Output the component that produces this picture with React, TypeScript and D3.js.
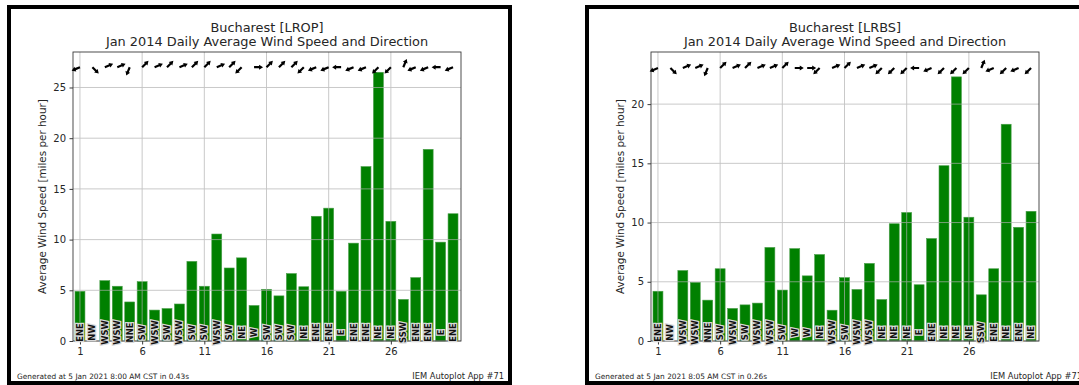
import * as d3 from "d3";
import { useEffect, useRef } from "react";

// days of the month (categories)
const days = [1, 2, 3, 4, 5, 6, 7, 8, 9, 10, 11, 12, 13, 14, 15, 16, 17, 18, 19, 20, 21, 22, 23, 24, 25, 26, 27, 28, 29, 30, 31];
const dayTicks = [1, 6, 11, 16, 21, 26];

// LROP - Bucharest Otopeni
const lropSpeed = [4.9, 0, 5.95, 5.4, 3.85, 5.85, 3.05, 3.2, 3.65, 7.85, 5.4, 10.55, 7.2, 8.2, 3.5, 5.1, 4.45, 6.65, 5.35, 12.3, 13.1, 4.9, 9.65, 17.2, 26.5, 11.8, 4.1, 6.25, 18.9, 9.75, 12.55];
const lropDir = ["ENE", "NW", "WSW", "WSW", "NNE", "SW", "WSW", "SW", "WSW", "SW", "SW", "WSW", "SW", "NE", "W", "SW", "SW", "SW", "NE", "ENE", "ENE", "E", "ENE", "ENE", "NE", "NE", "SSW", "ENE", "ENE", "E", "ENE"];
const lropTicks = [0, 5, 10, 15, 20, 25];

// LRBS - Bucharest Baneasa
const lrbsSpeed = [4.2, 0, 5.95, 4.95, 3.45, 6.1, 2.75, 3.05, 3.2, 7.9, 4.3, 7.8, 5.5, 7.3, 2.6, 5.35, 4.35, 6.55, 3.5, 9.9, 10.85, 4.75, 8.65, 14.8, 22.3, 10.45, 3.9, 6.1, 18.3, 9.6, 10.95];
const lrbsDir = ["ENE", "NW", "WSW", "WSW", "NNE", "SW", "WSW", "SW", "WSW", "WSW", "SW", "W", "W", "NE", "WSW", "SW", "WSW", "WSW", "NE", "NE", "NE", "E", "ENE", "NE", "NE", "NE", "SSW", "ENE", "NE", "ENE", "NE"];
const lrbsTicks = [0, 5, 10, 15, 20];

const compass = ["N", "NNE", "NE", "ENE", "E", "ESE", "SE", "SSE", "S", "SSW", "SW", "WSW", "W", "WNW", "NW", "NNW"];

const FONT = "DejaVu Sans";

interface PanelOpts {
    offset: number;
    title: string;
    speed: number[];
    dir: string[];
    yMax: number;
    yTicks: number[];
    arrowLevel: number;
    generated: string;
}

const drawPanel = (svg: any, o: PanelOpts) => {
    const g = svg.append("g").attr("transform", `translate(${o.offset},0)`);

    // axes box
    const left = 73, right = 461, top = 52, bottom = 341;

    const x = d3.scaleLinear().domain([0.44, 31.64]).range([left, right]);
    const y = d3.scaleLinear().domain([0, o.yMax]).range([bottom, top]);

    // figure frame
    g.append("rect")
        .attr("x", 9).attr("y", 7)
        .attr("width", 501).attr("height", 376)
        .attr("fill", "#fff")
        .attr("stroke", "#000")
        .attr("stroke-width", 4);

    // title
    g.append("text")
        .attr("x", (left + right) / 2).attr("y", 32)
        .attr("text-anchor", "middle")
        .attr("font-family", FONT).attr("font-size", 12.9)
        .attr("fill", "#262626")
        .text(o.title);
    g.append("text")
        .attr("x", (left + right) / 2).attr("y", 46)
        .attr("text-anchor", "middle")
        .attr("font-family", FONT).attr("font-size", 12.9)
        .attr("fill", "#262626")
        .text("Jan 2014 Daily Average Wind Speed and Direction");

    // bars
    g.append("g")
        .selectAll("rect")
        .data(days)
        .enter()
        .append("rect")
        .attr("x", (d: number) => x(d - 0.4))
        .attr("width", x(1.4) - x(0.6))
        .attr("y", (_d: number, i: number) => y(o.speed[i]))
        .attr("height", (_d: number, i: number) => y(0) - y(o.speed[i]))
        .attr("fill", "#008000")
        .attr("stroke", "#4a9e4a")
        .attr("stroke-width", 0.6);

    // grid (drawn above bars)
    const grid = g.append("g")
        .attr("stroke", "#b0b0b0")
        .attr("stroke-width", 0.9)
        .attr("opacity", 0.75);
    grid.selectAll("line.h")
        .data(o.yTicks)
        .enter()
        .append("line")
        .attr("x1", left).attr("x2", right)
        .attr("y1", (d: number) => y(d)).attr("y2", (d: number) => y(d));
    grid.selectAll("line.v")
        .data(dayTicks)
        .enter()
        .append("line")
        .attr("x1", (d: number) => x(d)).attr("x2", (d: number) => x(d))
        .attr("y1", top).attr("y2", bottom);

    // spines
    g.append("rect")
        .attr("x", left).attr("y", top)
        .attr("width", right - left).attr("height", bottom - top)
        .attr("fill", "none")
        .attr("stroke", "#3a3a3a")
        .attr("stroke-width", 0.9);

    // y axis
    const yAxis = g.append("g")
        .attr("transform", `translate(${left},0)`)
        .call(d3.axisLeft(y).tickValues(o.yTicks).tickSize(3.5).tickPadding(3.5).tickSizeOuter(0));
    yAxis.select(".domain").remove();
    yAxis.selectAll("text").attr("font-family", FONT).attr("font-size", 10).attr("fill", "#262626");
    yAxis.selectAll("line").attr("stroke", "#3a3a3a");

    // x axis
    const xAxis = g.append("g")
        .attr("transform", `translate(0,${bottom})`)
        .call(d3.axisBottom(x).tickValues(dayTicks).tickFormat(d3.format("d")).tickSize(3.5).tickPadding(3.5).tickSizeOuter(0));
    xAxis.select(".domain").remove();
    xAxis.selectAll("text").attr("font-family", FONT).attr("font-size", 10).attr("fill", "#262626");
    xAxis.selectAll("line").attr("stroke", "#3a3a3a");

    // y label
    g.append("text")
        .attr("transform", `translate(42,${(top + bottom) / 2}) rotate(-90)`)
        .attr("text-anchor", "middle")
        .attr("dominant-baseline", "central")
        .attr("font-family", FONT).attr("font-size", 10.4)
        .attr("fill", "#262626")
        .text("Average Wind Speed [miles per hour]");

    // direction text on each bar
    g.append("g")
        .selectAll("text")
        .data(days)
        .enter()
        .append("text")
        .attr("transform", (d: number) => `translate(${x(d)},${y(0) - 8.5}) rotate(-90)`)
        .attr("text-anchor", "middle")
        .attr("dominant-baseline", "central")
        .attr("font-family", FONT).attr("font-size", 8.4).attr("font-weight", "bold")
        .attr("fill", "#111")
        .attr("stroke", "#d8d8d8")
        .attr("stroke-width", 2.4)
        .attr("paint-order", "stroke")
        .text((_d: number, i: number) => o.dir[i]);

    // direction arrows along the top (pointing where the wind blows to)
    const L = 9, hl = 4, hw = 5, sw = 1.1;
    const arrowPts = [[0, -sw], [L - hl, -sw], [L - hl, -hw / 2], [L, 0], [L - hl, hw / 2], [L - hl, sw], [0, sw]];
    g.append("g")
        .selectAll("polygon")
        .data(days)
        .enter()
        .append("polygon")
        .attr("points", arrowPts.map(p => p.join(",")).join(" "))
        .attr("fill", "#000")
        .attr("transform", (d: number, i: number) => {
            const from = compass.indexOf(o.dir[i]) * 22.5;
            const to = ((from + 180) * Math.PI) / 180;
            const ang = (Math.atan2(-Math.cos(to), Math.sin(to)) * 180) / Math.PI;
            return `translate(${x(d)},${y(o.arrowLevel)}) rotate(${ang})`;
        });

    // footer
    g.append("text")
        .attr("x", 17).attr("y", 378.5)
        .attr("font-family", FONT).attr("font-size", 7.4)
        .attr("fill", "#262626")
        .text(o.generated);
    g.append("text")
        .attr("x", 504).attr("y", 378.5)
        .attr("text-anchor", "end")
        .attr("font-family", FONT).attr("font-size", 8.3)
        .attr("fill", "#262626")
        .text("IEM Autoplot App #71");
};

const App = () => {
    const svgRef = useRef<SVGSVGElement>(null);

    useEffect(() => {
        const svg = d3.select(svgRef.current);
        svg.selectAll("*").remove();

        drawPanel(svg, {
            offset: 0,
            title: "Bucharest [LROP]",
            speed: lropSpeed,
            dir: lropDir,
            yMax: 28.5,
            yTicks: lropTicks,
            arrowLevel: 27,
            generated: "Generated at 5 Jan 2021 8:00 AM CST in 0.43s",
        });
        drawPanel(svg, {
            offset: 578,
            title: "Bucharest [LRBS]",
            speed: lrbsSpeed,
            dir: lrbsDir,
            yMax: 24.4,
            yTicks: lrbsTicks,
            arrowLevel: 23.05,
            generated: "Generated at 5 Jan 2021 8:05 AM CST in 0.26s",
        });
    }, []);

    return (
        <svg
            ref={svgRef}
            width={1079}
            height={385}
            style={{ position: "absolute", left: 0, top: 0, background: "#fff", display: "block" }}
        ></svg>
    );
};

export default App;
